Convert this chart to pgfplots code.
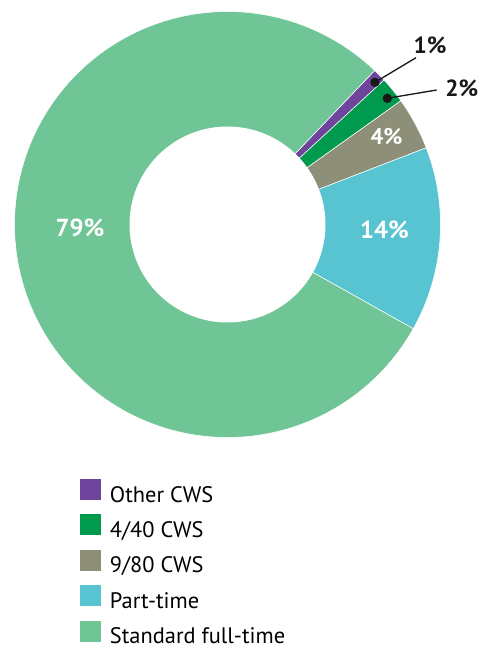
\documentclass[border=0pt]{standalone}
\usepackage{pgfplots}
\pgfplotsset{compat=1.18}
\usepackage{fontspec}
\setmainfont{PT Sans}

\definecolor{cother}{HTML}{6E449C}
\definecolor{cfour}{HTML}{009A4E}
\definecolor{cnine}{HTML}{8D8F78}
\definecolor{cpart}{HTML}{58C4D1}
\definecolor{cstd}{HTML}{6FC596}

% donut geometry in pixel units
\def\cx{227.5}
\def\cy{425.5}
\def\R{213}
\def\r{98}
% shares (%), counter-clockwise from the start angle
\def\start{-29.3}
\pgfmathsetmacro\aA{\start+3.6*14}  % part-time
\pgfmathsetmacro\aB{\aA+3.6*4}      % 9/80 CWS
\pgfmathsetmacro\aC{\aB+3.6*2}      % 4/40 CWS
\pgfmathsetmacro\aD{\aC+3.6*1}      % other CWS
\pgfmathsetmacro\aE{\aD+3.6*79}     % standard full-time

\begin{document}
\begin{tikzpicture}
\begin{axis}[
  scale only axis, width=361.5pt, height=487.5pt,
  xmin=0, xmax=482, ymin=0, ymax=650,
  hide axis, clip=false,
  legend style={at={(80/482,171.2/650)}, anchor=north west, draw=none, fill=none,
    inner sep=0pt, outer sep=0pt, font=\fontsize{16.8}{20}\selectfont, row sep=6.2pt,
    nodes={inner sep=0pt, text height=13pt, text depth=3pt},
    /tikz/every odd column/.append style={column sep=6.75pt}},
  legend cell align=left,
  legend image code/.code={\path[#1, draw=none] (0pt,-3.4pt) rectangle (15.75pt,12.4pt);},
  every axis plot/.append style={draw=white, line width=0.4pt, samples=40, variable=\t},
]
\coordinate (bl) at (rel axis cs:0,0);
\coordinate (tr) at (rel axis cs:1,1);
\addplot[fill=cother, domain=\aC:\aD] ({\cx+\R*cos(\t)},{\cy+\R*sin(\t)}) -- (\cx,\cy) -- cycle;
\addlegendentry{Other CWS}
\addplot[fill=cfour, domain=\aB:\aC] ({\cx+\R*cos(\t)},{\cy+\R*sin(\t)}) -- (\cx,\cy) -- cycle;
\addlegendentry{4/40 CWS}
\addplot[fill=cnine, domain=\aA:\aB] ({\cx+\R*cos(\t)},{\cy+\R*sin(\t)}) -- (\cx,\cy) -- cycle;
\addlegendentry{9/80 CWS}
\addplot[fill=cpart, domain=\start:\aA] ({\cx+\R*cos(\t)},{\cy+\R*sin(\t)}) -- (\cx,\cy) -- cycle;
\addlegendentry{Part-time}
\addplot[fill=cstd, domain=\aD:\aE, samples=150] ({\cx+\R*cos(\t)},{\cy+\R*sin(\t)}) -- (\cx,\cy) -- cycle;
\addlegendentry{Standard full-time}
% hole
\addplot[fill=white, draw=none, domain=0:360, samples=150, forget plot] ({\cx+\r*cos(\t)},{\cy+\r*sin(\t)}) -- cycle;
% leader lines
\addplot[black!90, line width=1pt, mark=*, mark size=3pt, mark indices={1}, forget plot]
  coordinates {(375,567.7) (416,592.3)};
\addplot[black!90, line width=1pt, mark=*, mark size=3pt, mark indices={1}, forget plot]
  coordinates {(387.3,551.7) (436.7,560)};
% labels
\node[font=\fontsize{18.5}{22}\bfseries, text=white] at (80,422) {79\%};
\node[font=\fontsize{18.5}{22}\bfseries, text=white] at (384.5,420) {14\%};
\node[font=\fontsize{17}{20}\bfseries, text=white] at (386.5,513.3) {4\%};
\node[font=\fontsize{17.5}{20}\bfseries, text=black!90] at (430,605) {1\%};
\node[font=\fontsize{17.5}{20}\bfseries, text=black!90] at (461.7,561.7) {2\%};
\end{axis}
\pgfresetboundingbox
\useasboundingbox (bl) rectangle (tr);
\end{tikzpicture}
\end{document}
